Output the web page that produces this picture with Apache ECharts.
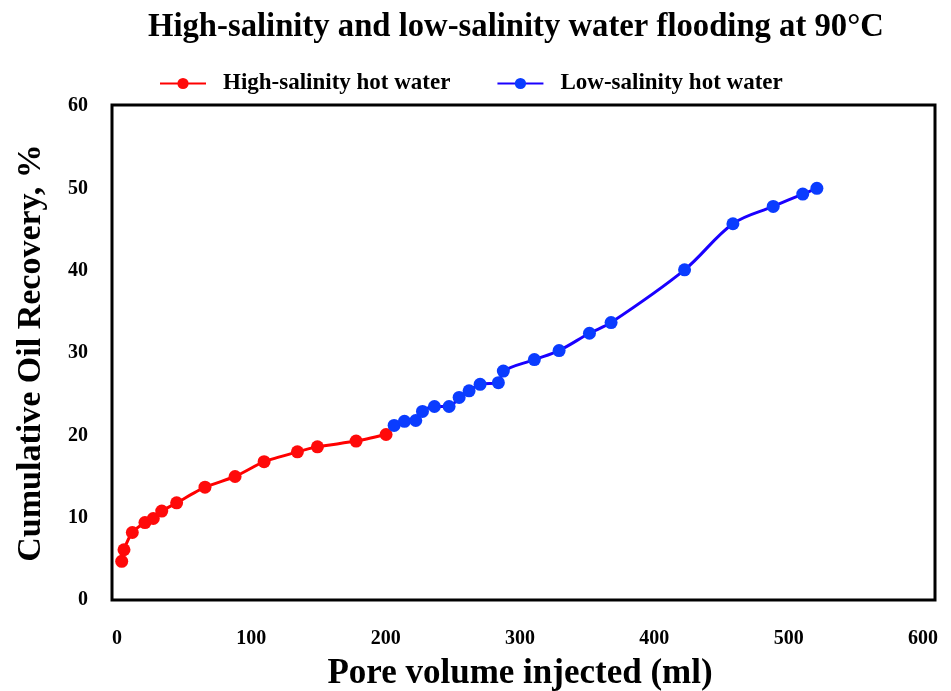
<!DOCTYPE html>
<html>
<head>
<meta charset="utf-8">
<script src="https://cdn.jsdelivr.net/npm/echarts@6/dist/echarts.min.js"></script>
<style>
  html, body { margin: 0; padding: 0; background: #fff; }
  #chart { width: 951px; height: 691px; }
</style>
</head>
<body>
<div id="chart"></div>
<script>
// Pore volume injected (ml) and cumulative recovery (%) per flood stage
var highSalinityPV = [3.5, 5.2, 11.4, 20.8, 27, 33.3, 44.4, 65.5, 87.9, 109.5, 134.3, 149.2, 178, 200.3];
var highSalinityRecovery = [4.7, 6.1, 8.2, 9.4, 9.9, 10.8, 11.8, 13.7, 15.0, 16.8, 18.0, 18.6, 19.3, 20.1];

var lowSalinityPV = [206.3, 214, 222.4, 227.4, 236.3, 247.2, 254.7, 262.1, 270.3, 283.9, 287.6, 310.7, 329.1, 351.7, 367.8, 422.5, 458.5, 488.5, 510.5, 521];
var lowSalinityRecovery = [21.2, 21.7, 21.8, 22.9, 23.5, 23.5, 24.6, 25.4, 26.2, 26.4, 27.8, 29.2, 30.3, 32.4, 33.7, 40.1, 45.7, 47.8, 49.3, 50.0];

var seriesNames = ['High-salinity hot water', 'Low-salinity hot water'];
var xTicks = { min: 0, max: 600, step: 100 };
var yTicks = { min: 0, max: 60, step: 10 };

var FONT = '"Liberation Serif", "Times New Roman", serif';

function pairs(xs, ys) {
  return xs.map(function (x, i) { return [x, ys[i]]; });
}

var chart = echarts.init(document.getElementById('chart'), null, { renderer: 'canvas' });

chart.setOption({
  backgroundColor: '#ffffff',
  animation: false,
  title: {
    text: 'High-salinity and low-salinity water flooding at 90\u00B0C',
    left: 143,
    top: 6,
    textStyle: { fontFamily: FONT, fontWeight: 'bold', fontSize: 32.7, color: '#000' }
  },
  legend: {
    left: 159,
    top: 72,
    itemWidth: 46,
    itemHeight: 14,
    itemGap: 46,
    padding: 0,
    textStyle: { fontFamily: FONT, fontWeight: 'bold', fontSize: 23, color: '#000', padding: [0, 0, 0, 12] },
    data: seriesNames
  },
  graphic: [{
    type: 'rect',
    shape: { x: 112, y: 105, width: 823, height: 495 },
    style: { fill: 'none', stroke: '#000', lineWidth: 3 },
    z: 10
  }],
  grid: { left: 117, right: 28, top: 106, bottom: 91, containLabel: false, outerBoundsMode: 'none' },
  xAxis: {
    type: 'value',
    min: xTicks.min,
    max: xTicks.max,
    interval: xTicks.step,
    name: 'Pore volume injected (ml)',
    nameLocation: 'middle',
    nameGap: 56,
    nameTextStyle: { fontFamily: FONT, fontWeight: 'bold', fontSize: 35, color: '#000' },
    axisLine: { show: false },
    axisTick: { show: false },
    splitLine: { show: false },
    axisLabel: { margin: 29, fontFamily: FONT, fontWeight: 'bold', fontSize: 20, color: '#000' }
  },
  yAxis: {
    type: 'value',
    min: yTicks.min,
    max: yTicks.max,
    interval: yTicks.step,
    name: 'Cumulative Oil Recovery, %',
    nameLocation: 'middle',
    nameGap: 69,
    nameTextStyle: { fontFamily: FONT, fontWeight: 'bold', fontSize: 34, color: '#000' },
    axisLine: { show: false },
    axisTick: { show: false },
    splitLine: { show: false },
    axisLabel: { margin: 29, fontFamily: FONT, fontWeight: 'bold', fontSize: 20, color: '#000' }
  },
  series: [{
    name: seriesNames[0],
    type: 'line',
    data: pairs(highSalinityPV, highSalinityRecovery),
    smooth: 0.2,
    symbol: 'circle',
    symbolSize: 13,
    lineStyle: { color: '#ff0000', width: 3 },
    itemStyle: { color: '#ff0a0a' },
    color: '#ff0000'
  }, {
    name: seriesNames[1],
    type: 'line',
    data: pairs(lowSalinityPV, lowSalinityRecovery),
    smooth: 0.35,
    symbol: 'circle',
    symbolSize: 13,
    lineStyle: { color: '#1a00ff', width: 3 },
    itemStyle: { color: '#0a3cff' },
    color: '#0a3cff'
  }]
});
</script>
</body>
</html>
